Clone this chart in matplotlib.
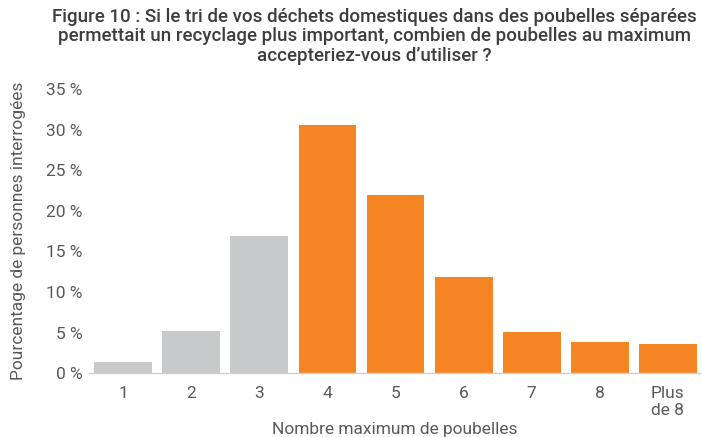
import numpy as np
import matplotlib.pyplot as plt

plt.rcParams['font.family'] = ['Roboto', 'DejaVu Sans']

# données
categories = ["1", "2", "3", "4", "5", "6", "7", "8", "Plus\nde 8"]
values = [1.4, 5.2, 16.9, 30.6, 22.0, 11.9, 5.1, 3.8, 3.6]
colors = ["#c8c9cb"] * 3 + ["#f58423"] * 6

fig = plt.figure(figsize=(7.02, 4.37), dpi=100)
ax = fig.add_axes([0.127, 0.146, 0.870, 0.650])

x = np.arange(len(categories))
ax.bar(x, values, width=0.85, color=colors)

ax.set_xlim(-0.5, 8.47)
ax.set_ylim(0, 35)
ax.set_yticks(np.arange(0, 36, 5))
ax.set_yticklabels([f"{v} %" for v in range(0, 36, 5)])
ax.set_xticks(x)
ax.set_xticklabels(categories)

txt = "#595959"
ax.tick_params(axis='both', length=0, labelsize=12.5, colors=txt)
ax.tick_params(axis='x', pad=9)
ax.tick_params(axis='y', pad=5)
for s in ["top", "right", "left"]:
    ax.spines[s].set_visible(False)
ax.spines["bottom"].set_color("#d0d0d0")
ax.spines["bottom"].set_linewidth(1)

ax.set_xlabel("Nombre maximum de poubelles", fontsize=12.5, color=txt, labelpad=3)
ax.set_ylabel("Pourcentage de personnes interrogées", fontsize=12.5, color=txt)
ax.yaxis.set_label_coords(-0.103, 0.5)

fig.text(0.533, 0.982, "Figure 10 : Si le tri de vos déchets domestiques dans des poubelles séparées\n"
         "permettait un recyclage plus important, combien de poubelles au maximum\n"
         "accepteriez-vous d\u2019utiliser ?",
         ha='center', va='top', fontsize=13.5, fontweight='medium', color="#3d3d3d",
         linespacing=1.1)

fig.savefig("out.png", dpi=100)
